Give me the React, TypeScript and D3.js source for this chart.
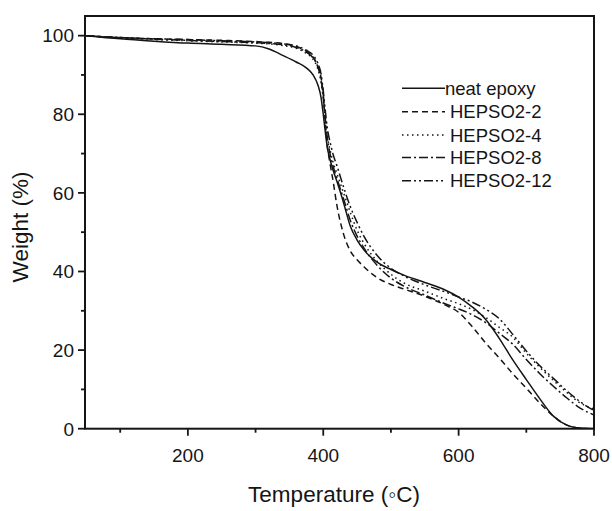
import React from "react";
import * as d3 from "d3";

const temps = [50,100,150,200,250,300,320,340,360,375,385,392,397,400,403,406,410,415,420,430,440,450,460,480,500,520,550,580,600,620,640,660,680,700,720,740,760,780,800];

const neatEpoxy = [100,99.2,98.6,98.1,97.8,97.4,96.6,95,93.3,91.8,90,87.5,84,80,75.5,71.5,68.5,65.5,63,57.5,51.5,48,45.5,42.3,40.5,39,37.2,35.3,33.5,31,27.8,23,17.5,12.5,7.6,3.2,0.9,0.15,0];
const hepso2_2 = [100,99.5,99.2,99,98.8,98.5,98.3,98,97.3,96,94.5,92.3,89,85,78,72,67.5,62.5,57,49.5,45.2,43,41.2,38.4,36.7,35.5,33.7,31.5,29.6,26,21.8,18,14,10.3,6.5,3.2,0.9,0.1,0];
const hepso2_4 = [100,99.4,99,98.7,98.4,98.1,97.9,97.5,96.8,95.5,94,91.5,88,84,79,74.5,71,67.5,65,60,55,50.5,47.2,42.5,39.3,37,35,33,31.8,30.3,28.3,25.8,23.3,19.2,15.6,12.3,9.2,6.5,5];
const hepso2_8 = [100,99.5,99.1,98.8,98.5,98.2,98,97.7,97,95.8,94.3,92,88.5,84.5,79,74,70,66.5,63.8,58.5,53,49,46,41.5,38.3,36.2,34,31.8,30.5,29,27,24.3,21.5,17.6,14,10.8,7.8,5.2,3.5];
const hepso2_12 = [100,99.5,99.2,99,98.7,98.4,98.2,97.9,97.4,96.3,95,93,90,86,81,76.5,73,69.5,67,61.5,56.5,52.5,49,44,40.8,38.8,36.6,34.8,33.5,32.2,30.4,28,24,19.8,16,12.8,9.6,6.8,4.6];

const seriesNames = ["neat epoxy","HEPSO2-2","HEPSO2-4","HEPSO2-8","HEPSO2-12"];
const seriesValues = [neatEpoxy, hepso2_2, hepso2_4, hepso2_8, hepso2_12];
const dashes = ["none","6,4","1.5,3.5","9,3,2,3","9,3,2,3,2,3"];

const xMajor = [200,400,600,800];
const xMinor = [100,300,500,700];
const yMajor = [0,20,40,60,80,100];
const yMinor = [10,30,50,70,90];

export default function App() {
  const L = 85, R = 594, T = 16, B = 428.7;
  const x = d3.scaleLinear().domain([48, 800]).range([L, R]);
  const y = d3.scaleLinear().domain([0, 105]).range([B, T]);
  const line = d3.line<number>()
    .x((_, i) => x(temps[i]))
    .y(d => y(d))
    .curve(d3.curveMonotoneX);
  const font = "Arial, 'Liberation Sans', Helvetica, sans-serif";
  const ink = "#151515";
  const legX1 = 402, legX2 = 445;
  const legY = [88.3, 111.7, 135, 157.5, 180.7];
  return (
    <svg width={612} height={511} style={{ position: "absolute", left: 0, top: 0, background: "#fff" }} fontFamily={font}>
      <rect x={0} y={0} width={612} height={511} fill="#fff" />
      <defs>
        <clipPath id="plot"><rect x={L} y={T} width={R - L} height={B - T} /></clipPath>
      </defs>
      <g clipPath="url(#plot)">
        {seriesValues.map((vals, i) => (
          <path key={i} d={line(vals) || ""} fill="none" stroke={ink} strokeWidth={1.5} strokeDasharray={dashes[i]} />
        ))}
      </g>
      <rect x={L} y={T} width={R - L} height={B - T} fill="none" stroke={ink} strokeWidth={2} />
      {xMajor.map(v => (
        <g key={"xm" + v}>
          <line x1={x(v)} x2={x(v)} y1={B} y2={B + 7} stroke={ink} strokeWidth={1.8} />
          <text x={x(v)} y={462} fontSize={19} textAnchor="middle" fill={ink}>{v}</text>
        </g>
      ))}
      {xMinor.map(v => (
        <line key={"xn" + v} x1={x(v)} x2={x(v)} y1={B} y2={B + 4} stroke={ink} strokeWidth={1.8} />
      ))}
      {yMajor.map(v => (
        <g key={"ym" + v}>
          <line x1={L - 7} x2={L} y1={y(v)} y2={y(v)} stroke={ink} strokeWidth={1.8} />
          <text x={74} y={y(v)} dy="0.36em" fontSize={19} textAnchor="end" fill={ink}>{v}</text>
        </g>
      ))}
      {yMinor.map(v => (
        <line key={"yn" + v} x1={L - 4} x2={L} y1={y(v)} y2={y(v)} stroke={ink} strokeWidth={1.8} />
      ))}
      <text x={334} y={502} fontSize={22.5} textAnchor="middle" fill={ink}>Temperature (◦C)</text>
      <text transform="translate(28,227) rotate(-90)" fontSize={22.5} textAnchor="middle" fill={ink}>Weight (%)</text>
      {seriesNames.map((n, i) => (
        <g key={n}>
          <line x1={legX1} x2={legX2} y1={legY[i]} y2={legY[i]} stroke={ink} strokeWidth={1.5} strokeDasharray={dashes[i]} />
          <text x={i === 0 ? 445 : 450} y={legY[i]} dy="0.36em" fontSize={18.5} fill={ink}>{n}</text>
        </g>
      ))}
    </svg>
  );
}
